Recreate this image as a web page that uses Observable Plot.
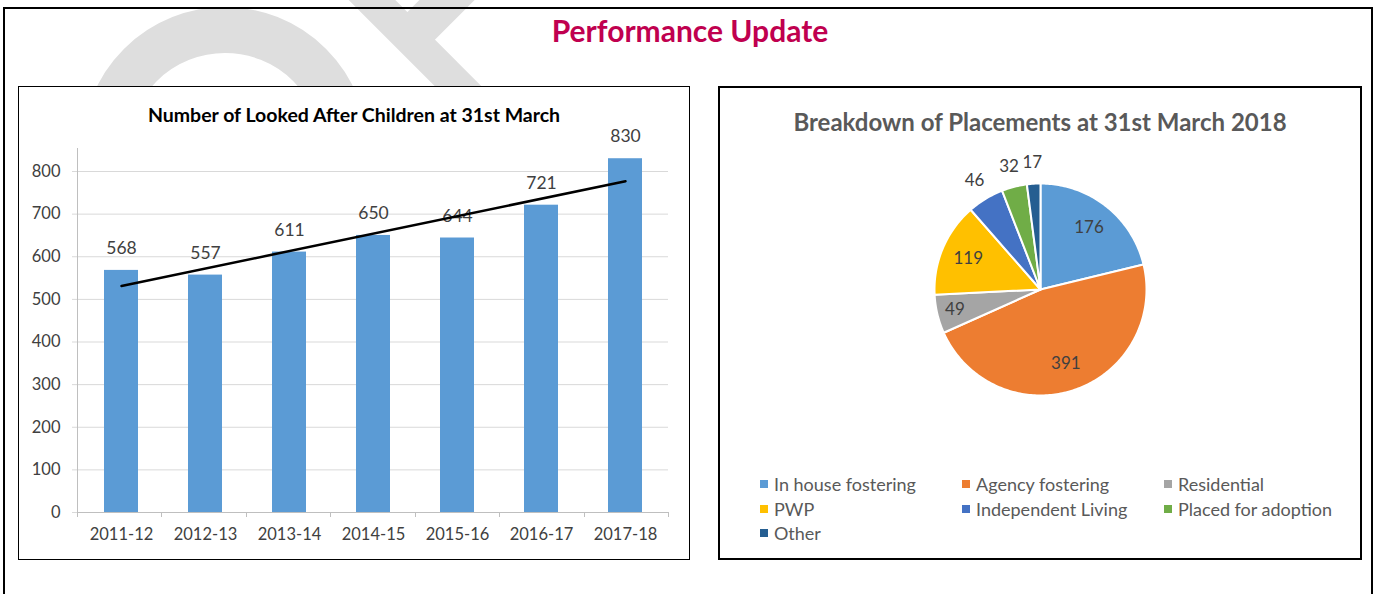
<!DOCTYPE html>
<html>
<head>
<meta charset="utf-8">
<script src="https://cdn.jsdelivr.net/npm/d3@7"></script>
<script src="https://cdn.jsdelivr.net/npm/@observablehq/plot@0.6"></script>
<style>
  html, body { margin: 0; padding: 0; background: #fff; }
  body { width: 1380px; height: 594px; overflow: hidden; position: relative; font-family: Lato, "Open Sans", sans-serif; }
  #watermark { position: absolute; left: 0; top: 0; }
  #frame { position: absolute; left: 3px; top: 7px; width: 1370px; height: 640px; border: 2px solid #000; box-sizing: border-box; }
  #title { position: absolute; left: 0; top: 12px; width: 1380px; text-align: center; font: bold 30px/36px Lato, sans-serif; color: #C0004F; }
  #leftbox { position: absolute; left: 18px; top: 86px; width: 670px; height: 472px; border: 1px solid #000; background: #fff; }
  #rightbox { position: absolute; left: 718px; top: 86px; width: 640px; height: 470px; border: 2px solid #000; background: #fff; }
  .ctitle { position: absolute; left: 0; width: 100%; text-align: center; }
  #bartitle { top: 15.5px; font: bold 19.5px/23px Lato, sans-serif; color: #000; }
  #pietitle { top: 18.5px; font: bold 24px/29px Lato, sans-serif; color: #595959; }
  #barchart { position: absolute; left: 0; top: 0; }
  #piechart { position: absolute; left: 0; top: 62px; }
  #legend { position: absolute; left: 40px; top: 384px; width: 620px; }
  .pl-swatches { font-family: Lato, sans-serif !important; font-size: 18px !important; color: #595959 !important; margin: 0 !important; min-height: 0 !important; display: flex; flex-wrap: wrap; }
  .pl-swatch { width: 202px; height: 24.5px; margin: 0 !important; display: inline-flex; align-items: center; }
  .pl-swatch > svg { margin-right: 6px !important; }
</style>
</head>
<body>
<svg id="watermark" width="1380" height="594">
  <g fill="none" stroke="#dedede">
    <circle cx="225" cy="150" r="120" stroke-width="46"></circle>
    <line x1="330" y1="-42" x2="500" y2="128" stroke-width="33"></line>
    <line x1="409" y1="38" x2="480" y2="-33" stroke-width="39"></line>
  </g>
</svg>
<div id="frame"></div>
<div id="title">Performance Update</div>
<div id="leftbox">
  <div id="barchart"></div>
  <div id="bartitle" class="ctitle">Number of Looked After Children at 31st March</div>
</div>
<div id="rightbox">
  <div id="pietitle" class="ctitle">Breakdown of Placements at 31st March 2018</div>
  <div id="piechart"></div>
  <div id="legend"></div>
</div>
<script>
// ---- Data ----
const years = ["2011-12", "2012-13", "2013-14", "2014-15", "2015-16", "2016-17", "2017-18"];
const lacCounts = [568, 557, 611, 650, 644, 721, 830];
const yTicks = [0, 100, 200, 300, 400, 500, 600, 700, 800];

const placementCategories = ["In house fostering", "Agency fostering", "Residential", "PWP", "Independent Living", "Placed for adoption", "Other"];
const placementCounts = [176, 391, 49, 119, 46, 32, 17];
const placementColors = ["#5B9BD5", "#ED7D31", "#A5A5A5", "#FFC000", "#4472C4", "#70AD47", "#255E91"];

// ---- Bar chart ----
const barData = years.map((y, i) => ({year: y, count: lacCounts[i]}));

// linear trend line (least squares) over category index
const n = lacCounts.length;
const mx = d3.mean(lacCounts, (d, i) => i);
const my = d3.mean(lacCounts);
const slope = d3.sum(lacCounts, (d, i) => (i - mx) * (d - my)) / d3.sum(lacCounts, (d, i) => (i - mx) ** 2);
const trend = [0, n - 1].map(i => ({year: years[i], value: my + slope * (i - mx)}));

const axisLines = (index, scales, values, dims) => {
  const g = d3.create("svg:g").attr("stroke", "#bfbfbf").attr("stroke-width", 1);
  const x0 = dims.marginLeft, x1 = dims.width - dims.marginRight;
  const yb = dims.height - dims.marginBottom;
  g.append("line").attr("x1", x0 + 0.5).attr("x2", x0 + 0.5).attr("y1", dims.marginTop).attr("y2", yb + 5);
  g.append("line").attr("x1", x0).attr("x2", x1).attr("y1", yb + 0.5).attr("y2", yb + 0.5);
  const step = (x1 - x0) / years.length;
  for (let i = 1; i <= years.length; i++) {
    const xx = Math.round(x0 + i * step) + 0.5;
    g.append("line").attr("x1", xx).attr("x2", xx).attr("y1", yb).attr("y2", yb + 5);
  }
  return g.node();
};

const bar = Plot.plot({
  width: 670,
  height: 472,
  marginLeft: 58,
  marginRight: 21,
  marginTop: 61,
  marginBottom: 47,
  style: {fontFamily: "Lato, sans-serif", fontSize: "16px", background: "transparent"},
  x: {domain: years, paddingInner: 0.6, paddingOuter: 0.3, label: null},
  y: {domain: [0, 854], label: null},
  marks: [
    Plot.gridY(yTicks.filter(d => d > 0), {stroke: "#d9d9d9", strokeOpacity: 1}),
    Plot.axisY(yTicks, {tickSize: 5, tickPadding: 12, stroke: "#d9d9d9", strokeOpacity: 1, fill: "#404040", fontSize: 16.5, label: null}),
    Plot.axisX({tickSize: 0, tickPadding: 16, fill: "#404040", fontSize: 16.5, label: null}),
    Plot.barY(barData, {x: "year", y: "count", fill: "#5B9BD5"}),
    axisLines,
    Plot.text(barData, {x: "year", y: "count", text: d => String(d.count), dy: -22, fill: "#404040", fontSize: 17.5}),
    Plot.line(trend, {x: "year", y: "value", stroke: "#000", strokeWidth: 2.5})
  ]
});
document.getElementById("barchart").append(bar);

// ---- Pie chart ----
const R = 106;
const pieGen = d3.pie().sort(null).value(d => d.count);
const pieInput = placementCategories.map((c, i) => ({name: c, count: placementCounts[i]}));
const arcs = pieGen(pieInput);
const total = d3.sum(placementCounts);

const slicePoints = [];
arcs.forEach(a => {
  slicePoints.push({name: a.data.name, x: 0, y: 0});
  const steps = Math.max(2, Math.ceil((a.endAngle - a.startAngle) / (Math.PI / 180)));
  for (let k = 0; k <= steps; k++) {
    const t = a.startAngle + (a.endAngle - a.startAngle) * k / steps;
    slicePoints.push({name: a.data.name, x: R * Math.sin(t), y: R * Math.cos(t)});
  }
  slicePoints.push({name: a.data.name, x: 0, y: 0});
});

const pieLabels = arcs.map(a => {
  const mid = (a.startAngle + a.endAngle) / 2;
  const frac = a.data.count / total;
  const rr = frac < 0.057 ? R * 1.2 : (frac < 0.1 ? R * 0.83 : R * 0.74);
  return {text: String(a.data.count), x: rr * Math.sin(mid), y: rr * Math.cos(mid)};
});

const colorScale = {domain: placementCategories, range: placementColors};

const pie = Plot.plot({
  width: 640,
  height: 300,
  margin: 0,
  style: {fontFamily: "Lato, sans-serif", fontSize: "17px", background: "transparent"},
  x: {domain: [-320, 320], axis: null},
  y: {domain: [-161, 139], axis: null},
  color: colorScale,
  marks: [
    Plot.line(slicePoints, {x: "x", y: "y", z: "name", fill: "name", stroke: "#fff", strokeWidth: 2, strokeLinejoin: "round"}),
    Plot.text(pieLabels, {x: "x", y: "y", text: "text", fill: "#404040", fontSize: 17})
  ]
});
document.getElementById("piechart").append(pie);

const legend = Plot.legend({
  color: colorScale,
  legend: "swatches",
  swatchSize: 8,
  className: "pl"
});
document.getElementById("legend").append(legend);
</script>
</body>
</html>
